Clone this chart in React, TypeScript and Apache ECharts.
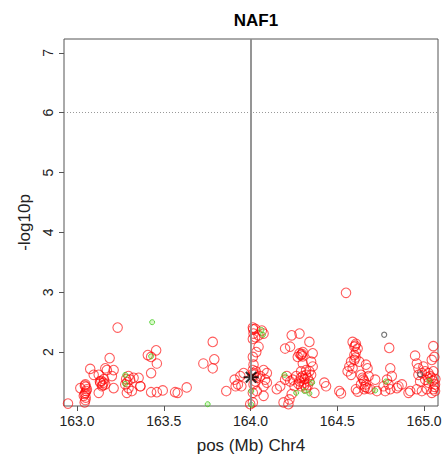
import React, { useEffect, useRef } from "react";
import * as echarts from "echarts";

const title = "NAF1";
const xTicks = [163.0, 163.5, 164.0, 164.5, 165.0];
const yTicks = [2, 3, 4, 5, 6, 7];
const xRange = [162.925, 165.08];
const yRange = [1.1, 7.23];
const leadPos = 164.0;
const threshold = 6;

const redPoints: [number, number][] = [
  [163.234, 2.41], [163.188, 1.9], [163.076, 1.72], [163.163, 1.73], [163.172, 1.7],
  [163.211, 1.7], [163.096, 1.62], [163.125, 1.62], [163.201, 1.6], [163.297, 1.6],
  [163.306, 1.54], [163.326, 1.57], [163.355, 1.57], [163.019, 1.4], [163.048, 1.46],
  [163.057, 1.38], [163.048, 1.32], [163.039, 1.27], [163.125, 1.32], [163.134, 1.49],
  [163.144, 1.43], [163.153, 1.49], [163.163, 1.46], [163.211, 1.4], [163.278, 1.46],
  [163.287, 1.32], [163.297, 1.4], [163.316, 1.35], [163.364, 1.43], [162.948, 1.14],
  [163.044, 1.16], [163.132, 1.51], [163.048, 1.2],
  [163.05, 1.42], [163.053, 1.35], [163.044, 1.3], [163.05, 1.24], [163.14, 1.52],
  [163.155, 1.55], [163.148, 1.45], [163.283, 1.55], [163.29, 1.5], [163.045, 1.44],
  [163.782, 2.17], [163.456, 2.03], [163.427, 1.92], [163.46, 1.81], [163.427, 1.65],
  [163.366, 1.43], [163.427, 1.33], [163.46, 1.33], [163.494, 1.36], [163.565, 1.33],
  [163.58, 1.32], [163.632, 1.41], [163.728, 1.81], [163.782, 1.73], [163.791, 1.88],
  [163.408, 1.95],
  [163.86, 1.35], [163.908, 1.54], [163.927, 1.46], [163.947, 1.43], [163.914, 1.43],
  [163.941, 1.6], [163.96, 1.65], [164.013, 2.41], [164.027, 2.39], [164.017, 2.31],
  [164.027, 2.25], [164.013, 2.22], [164.065, 2.36], [164.075, 2.31], [164.046, 2.28],
  [164.046, 2.09], [164.033, 2.0], [164.013, 1.92], [164.017, 1.79], [164.013, 1.7],
  [164.017, 1.65], [164.036, 1.57], [164.027, 1.51], [164.056, 1.6], [164.075, 1.7],
  [164.094, 1.65], [164.084, 1.54], [164.094, 1.49], [164.075, 1.43], [164.017, 1.46],
  [164.013, 1.32], [164.036, 1.35], [164.075, 1.27], [164.013, 1.16], [163.998, 1.13],
  [164.015, 2.38], [164.02, 1.62], [164.03, 1.68],
  [164.199, 2.06], [164.228, 2.09], [164.237, 2.28], [164.209, 1.6], [164.228, 1.51],
  [164.199, 1.54], [164.151, 1.38], [164.171, 1.43], [164.19, 1.16], [164.218, 1.13],
  [164.237, 1.3],
  [164.282, 2.31], [164.339, 2.17], [164.282, 1.98], [164.291, 1.95], [164.301, 2.0],
  [164.272, 1.92], [164.358, 1.98], [164.301, 1.81], [164.349, 1.84], [164.358, 1.76],
  [164.263, 1.6], [164.291, 1.68], [164.32, 1.7], [164.339, 1.68], [164.301, 1.6],
  [164.329, 1.57], [164.349, 1.62], [164.282, 1.51], [164.31, 1.49], [164.339, 1.51],
  [164.253, 1.43], [164.291, 1.43], [164.32, 1.4], [164.243, 1.54], [164.368, 1.32],
  [164.425, 1.49], [164.435, 1.43], [164.511, 1.35], [164.521, 1.31], [164.224, 1.21],
  [164.31, 1.55], [164.32, 1.62], [164.29, 1.57], [164.275, 1.47], [164.31, 1.45],
  [164.33, 1.45], [164.295, 1.97], [164.3, 1.93],
  [164.588, 2.17], [164.607, 2.14], [164.598, 2.09], [164.617, 2.06], [164.607, 2.0],
  [164.598, 1.95], [164.579, 1.84], [164.598, 1.87], [164.626, 1.84], [164.569, 1.76],
  [164.588, 1.73], [164.559, 1.68], [164.579, 1.62], [164.665, 1.79], [164.674, 1.73],
  [164.636, 1.62], [164.645, 1.57], [164.655, 1.51], [164.665, 1.46], [164.636, 1.46],
  [164.607, 1.38], [164.617, 1.34], [164.655, 1.38], [164.674, 1.4], [164.55, 2.99],
  [164.603, 2.11], [164.605, 1.91], [164.65, 1.54], [164.66, 1.42],
  [164.799, 2.07], [165.053, 2.1], [165.059, 1.92], [165.044, 1.87], [164.948, 1.94],
  [164.958, 1.81], [164.967, 1.73], [164.996, 1.76], [165.006, 1.68], [164.68, 1.6],
  [164.805, 1.73], [164.814, 1.6], [164.786, 1.54], [164.718, 1.54], [164.967, 1.62],
  [164.987, 1.65], [165.025, 1.65], [165.053, 1.68], [165.044, 1.57], [165.006, 1.54],
  [164.977, 1.51], [165.025, 1.49], [165.063, 1.46], [165.053, 1.38],
  [165.035, 1.6], [165.05, 1.52], [165.06, 1.42], [165.02, 1.58], [165.065, 1.55],
  [164.69, 1.38], [164.728, 1.35], [164.766, 1.43], [164.776, 1.35], [164.805, 1.38],
  [164.843, 1.4], [164.852, 1.43], [164.91, 1.32], [164.92, 1.35], [164.987, 1.35],
  [165.016, 1.38], [165.044, 1.32], [165.063, 1.35], [164.795, 1.46], [164.872, 1.46],
  [164.958, 1.38],
];

const greenPoints: [number, number][] = [
  [163.433, 2.5], [163.278, 1.62], [163.278, 1.47], [163.427, 1.93], [163.753, 1.13],
  [164.063, 2.37], [164.071, 2.29], [164.004, 1.35], [164.004, 1.12], [164.195, 1.62],
  [164.263, 1.32], [164.31, 1.35], [164.339, 1.31], [164.355, 1.49], [164.718, 1.36],
  [164.78, 1.51], [165.03, 1.52],
];

const grayPoints: [number, number][] = [
  [164.77, 2.29], [164.977, 1.63],
];

const leadSnp: [number, number][] = [[164.003, 1.58]];

const FONT = "'Liberation Sans', Arial, Helvetica, sans-serif";

export default function App() {
  const ref = useRef<HTMLDivElement>(null);
  useEffect(() => {
    if (!ref.current) return;
    const chart = echarts.init(ref.current, undefined, { renderer: "svg" });
    chart.setOption({
      animation: false,
      backgroundColor: "#ffffff",
      title: {
        text: title,
        left: 251,
        top: 7,
        textAlign: "center",
        textStyle: { fontFamily: FONT, fontSize: 17, fontWeight: "bold", color: "#000" },
      },
      grid: {
        left: 64,
        top: 39,
        width: 374,
        height: 373,
        show: true,
        borderColor: "#555",
        borderWidth: 1,
        backgroundColor: "transparent",
      },
      xAxis: {
        type: "value",
        min: xRange[0],
        max: xRange[1],
        name: "pos (Mb) Chr4",
        nameLocation: "middle",
        nameGap: 31,
        nameTextStyle: { fontFamily: FONT, fontSize: 17, color: "#222" },
        axisLine: { show: false },
        splitLine: { show: false },
        axisTick: {
          show: true,
          length: 5,
          inside: false,
          customValues: xTicks,
          lineStyle: { color: "#555" },
        },
        axisLabel: {
          customValues: xTicks,
          formatter: (v: number) => v.toFixed(1),
          fontFamily: FONT,
          fontSize: 14,
          color: "#222",
          margin: 8,
        },
      },
      yAxis: {
        type: "value",
        min: yRange[0],
        max: yRange[1],
        name: "-log10p",
        nameLocation: "middle",
        nameGap: 31,
        nameRotate: 90,
        nameTextStyle: { fontFamily: FONT, fontSize: 17, color: "#222" },
        axisLine: { show: false },
        splitLine: { show: false },
        axisTick: {
          show: true,
          length: 5,
          inside: false,
          customValues: yTicks,
          lineStyle: { color: "#555" },
        },
        axisLabel: {
          customValues: yTicks,
          rotate: 90,
          fontFamily: FONT,
          fontSize: 14,
          color: "#222",
          margin: 9,
        },
      },
      series: [
        {
          type: "scatter",
          data: redPoints,
          symbol: "circle",
          symbolSize: 9.5,
          silent: true,
          itemStyle: {
            color: "rgba(255,255,255,0)",
            borderColor: "rgba(255,0,0,0.8)",
            borderWidth: 1.1,
          },
          markLine: {
            silent: true,
            symbol: "none",
            label: { show: false },
            data: [
              { xAxis: leadPos, lineStyle: { color: "#8a8a8a", width: 1.8, type: "solid" } },
              { yAxis: threshold, lineStyle: { color: "#999", width: 1, type: [1, 2] } },
            ],
          },
        },
        {
          type: "scatter",
          data: greenPoints,
          symbol: "circle",
          symbolSize: 5,
          silent: true,
          itemStyle: {
            color: "rgba(120,230,60,0.35)",
            borderColor: "#44cc22",
            borderWidth: 1,
          },
        },
        {
          type: "scatter",
          data: grayPoints,
          symbol: "circle",
          symbolSize: 5,
          silent: true,
          itemStyle: {
            color: "rgba(255,255,255,0)",
            borderColor: "#555",
            borderWidth: 1.2,
          },
        },
        {
          type: "scatter",
          data: leadSnp,
          symbol: "path://M0,-10L0,10M-10,0L10,0M-7,-7L7,7M-7,7L7,-7",
          symbolSize: 15,
          silent: true,
          itemStyle: {
            color: "none",
            borderColor: "#000",
            borderWidth: 2,
          },
        },
      ],
    });
    return () => chart.dispose();
  }, []);
  return (
    <div
      ref={ref}
      style={{ position: "fixed", left: 0, top: 0, width: 446, height: 459, background: "#fff" }}
    />
  );
}
